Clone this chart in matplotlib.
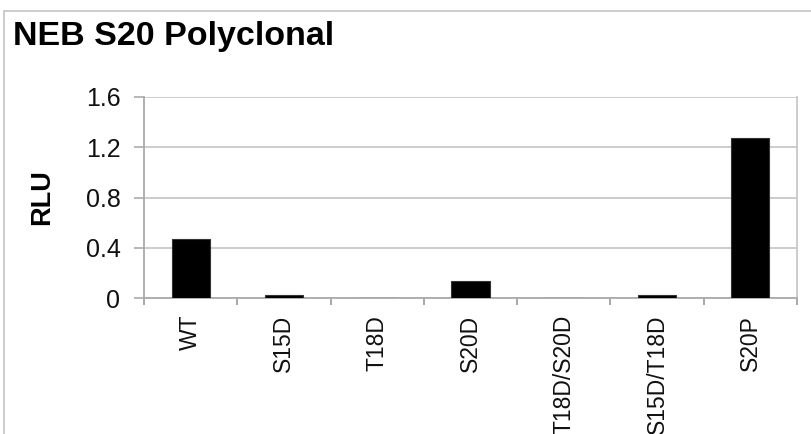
import matplotlib.pyplot as plt
from matplotlib.patches import Rectangle
import numpy as np

categories = ['WT', 'S15D', 'T18D', 'S20D', 'T18D/S20D', 'S15D/T18D', 'S20P']
rlu = [0.47, 0.02, 0.0, 0.135, 0.0, 0.02, 1.27]
yticks = [0, 0.4, 0.8, 1.2, 1.6]
ytick_labels = ['0', '0.4', '0.8', '1.2', '1.6']

plt.rcParams['font.family'] = ['Liberation Sans', 'DejaVu Sans']

fig = plt.figure(figsize=(8.12, 4.34), dpi=100)
ax = fig.add_axes([144/812, 1 - 298/434, (797 - 144)/812, (298 - 97)/434])

# outer chart frame (cut off at right and bottom)
fig.patches.append(Rectangle((4/812, -0.5), 2.0, 1.5 - 11/434,
                             transform=fig.transFigure, fill=False,
                             edgecolor='#c8c8c8', linewidth=1.3))

x = np.arange(len(categories))
ax.bar(x, rlu, width=0.41, color='black', edgecolor='#333333', linewidth=0.8, zorder=3)

ax.set_xlim(-0.5, len(categories) - 0.5)
ax.set_ylim(0, 1.6)
ax.set_yticks(yticks)
ax.set_yticklabels(ytick_labels, fontsize=18, color='#111111')
ax.set_xticks(x)
ax.set_xticklabels(categories, rotation=90, fontsize=16.5, color='#111111')
ax.tick_params(axis='x', length=0, pad=12)
ax.set_xticks(np.arange(len(categories) + 1) - 0.5, minor=True)
ax.tick_params(axis='x', which='minor', length=5, color='#999999', width=1.2)
ax.tick_params(axis='y', length=7, color='#aaaaaa', width=1.2, pad=10)

ax.yaxis.grid(True, color='#c8c8c8', linewidth=1.3, zorder=0)
for side in ['left', 'bottom', 'right']:
    ax.spines[side].set_color('#aaaaaa')
    ax.spines[side].set_linewidth(1.3)
ax.spines['right'].set_color('#c8c8c8')
ax.spines['top'].set_visible(False)

ax.set_ylabel('RLU', fontsize=19.5, fontweight='bold', labelpad=22)

fig.text(13/812, 1 - 21/434, 'NEB S20 Polyclonal', fontsize=24.5,
         fontweight='bold', ha='left', va='top')

fig.savefig('out.png', dpi=100)
